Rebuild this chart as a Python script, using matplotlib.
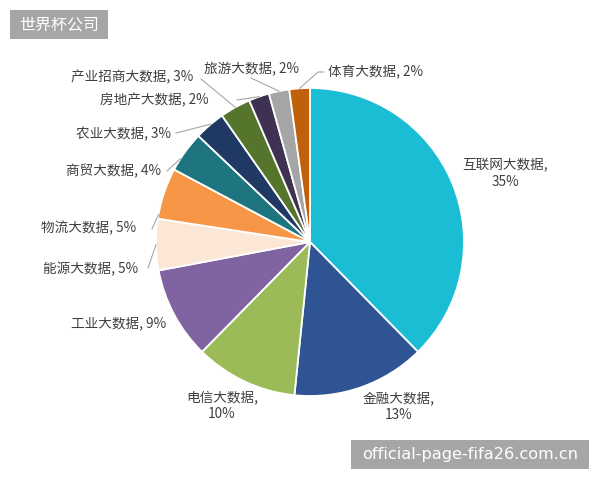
import matplotlib
matplotlib.use("Agg")
import matplotlib.pyplot as plt
from matplotlib.patches import Rectangle
import numpy as np

plt.rcParams['font.family'] = ['Noto Sans CJK SC', 'DejaVu Sans']

categories = ["互联网大数据", "金融大数据", "电信大数据", "工业大数据", "能源大数据",
              "物流大数据", "商贸大数据", "农业大数据", "产业招商大数据", "房地产大数据",
              "旅游大数据", "体育大数据"]
values = [35, 13, 10, 9, 5, 5, 4, 3, 3, 2, 2, 2]
colors = ["#1ABDD3", "#2F5494", "#9BBB59", "#8064A2", "#FCE6D6", "#F79646",
          "#1E7580", "#1F3864", "#56752C", "#3F3151", "#A5A5A5", "#C0600B"]

W, H = 600, 480
fig = plt.figure(figsize=(6, 4.8), dpi=100)
ax = fig.add_axes([0, 0, 1, 1])

cx, cy, R = 310, H - 242, 154
wedges, _ = ax.pie(values, colors=colors, startangle=90, counterclock=False,
                   center=(cx, cy), radius=R, frame=True,
                   wedgeprops=dict(edgecolor='white', linewidth=1.3))
ax.set_xlim(0, W)
ax.set_ylim(0, H)
ax.set_aspect('equal')
ax.axis('off')

# label layout: text centre (x, y from top), leader start point, fraction along wedge
layout = {
    "互联网大数据": (505, 174, None, None),
    "金融大数据": (399, 407, None, None),
    "电信大数据": (222, 406, None, None),
    "工业大数据": (119, 323, None, None),
    "能源大数据": (91, 269, (148, 268), 0.5),
    "物流大数据": (89, 228, (152, 229), 0.92),
    "商贸大数据": (114, 171, (167, 171), 0.7),
    "农业大数据": (124, 134, (176, 133), 0.45),
    "产业招商大数据": (132, 77, (201, 79), 0.5),
    "房地产大数据": (154, 100, (237, 100), 0.5),
    "旅游大数据": (252, 68, (251, 78), 0.5),
    "体育大数据": (376, 72, (324, 72), 0.5),
}
tc = "#404040"
fs = 9.8
for name, v, w in zip(categories, values, wedges):
    x, y, ls, f = layout[name]
    if name in ("互联网大数据", "金融大数据", "电信大数据"):
        txt = f"{name},\n{v}%"
    else:
        txt = f"{name}, {v}%"
    ax.text(x, H - y, txt, ha='center', va='center', fontsize=fs, color=tc,
            linespacing=1.25)
    if ls is not None:
        ang = np.deg2rad(w.theta1 + f * (w.theta2 - w.theta1))
        px, py = cx + R * np.cos(ang), cy + R * np.sin(ang)
        lx, ly = ls[0], H - ls[1]
        if name == "体育大数据":
            ax.plot([lx, lx - 6, px], [ly, ly, py], color="#A6A6A6", lw=0.8)
        else:
            ax.plot([lx, px], [ly, py], color="#A6A6A6", lw=0.8)

# watermark boxes
ax.add_patch(Rectangle((10, H - 39), 98, 29, fc='#A6A6A6', ec='none'))
ax.text(59, H - 25, "世界杯公司", ha='center', va='center', fontsize=11.5,
        color='white')
ax.add_patch(Rectangle((351, H - 469), 238, 29, fc='#A6A6A6', ec='none'))
ax.text(470, H - 455, "official-page-fifa26.com.cn", ha='center', va='center',
        fontsize=11.6, color='white', family=['DejaVu Sans'])

fig.savefig("out.png", dpi=100, facecolor='white')
